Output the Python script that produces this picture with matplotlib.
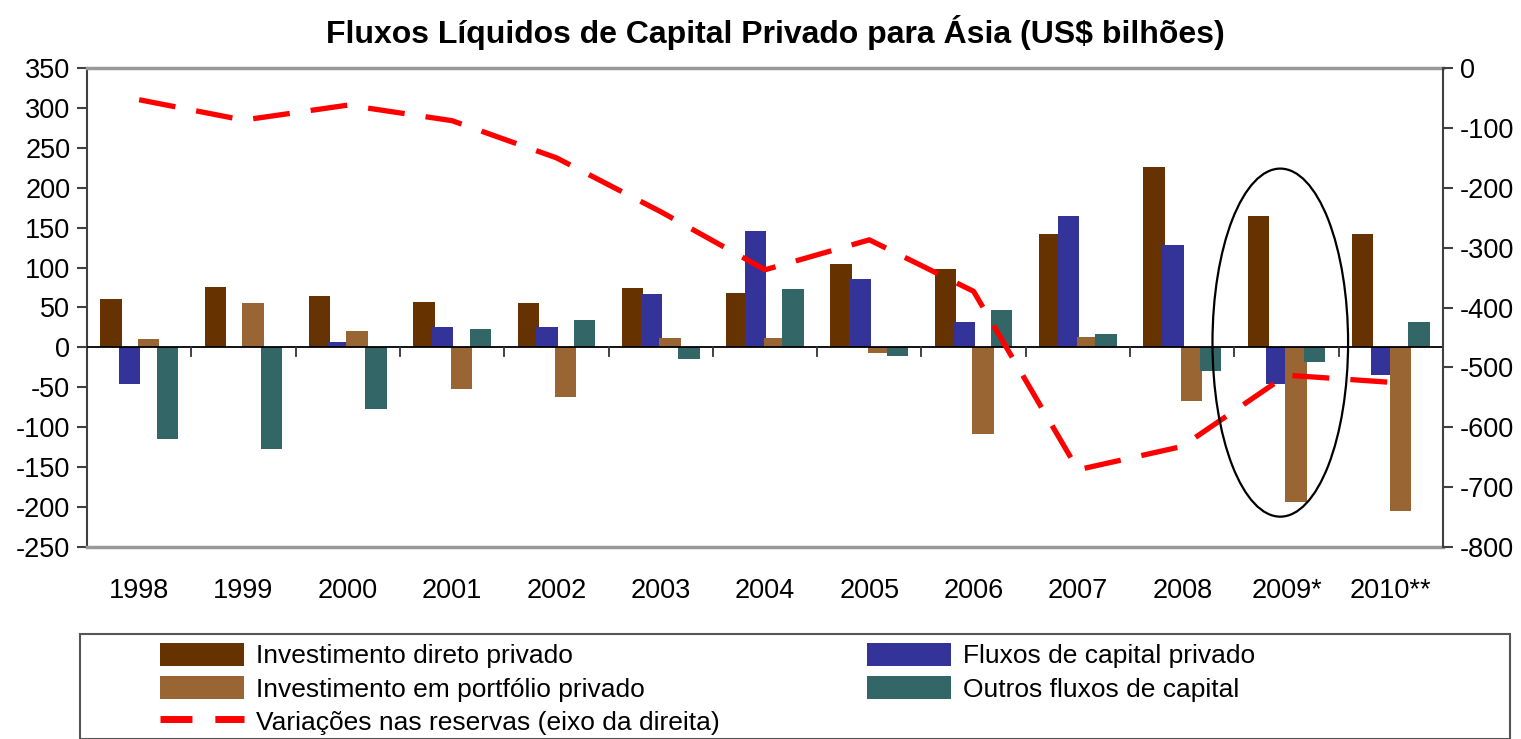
import matplotlib
matplotlib.use("Agg")
import matplotlib.pyplot as plt
from matplotlib.patches import Ellipse, Rectangle, Patch
from matplotlib.lines import Line2D
import numpy as np

plt.rcParams['font.family'] = ['Liberation Sans', 'DejaVu Sans']
plt.rcParams['axes.unicode_minus'] = False

years = ["1998", "1999", "2000", "2001", "2002", "2003", "2004", "2005",
         "2006", "2007", "2008", "2009*", "2010**"]
investimento_direto = [61, 76, 65, 57, 56, 74, 68, 104, 98, 142, 226, 165, 142]
fluxos_capital = [-46, 0, 7, 25, 25, 67, 146, 86, 32, 165, 128, -46, -35]
investimento_portfolio = [11, 56, 21, -52, -62, 12, 12, -7, -108, 13, -67, -194, -205]
outros_fluxos = [-115, -127, -77, 23, 34, -15, 73, -11, 47, 17, -30, -18, 32]
variacoes_reservas = [-53, -87, -62, -88, -150, -240, -337, -287, -373, -671, -632, -513, -525]

title = "Fluxos Líquidos de Capital Privado para Ásia (US$ bilhões)"
labels = ["Investimento direto privado", "Fluxos de capital privado",
          "Investimento em portfólio privado", "Outros fluxos de capital",
          "Variações nas reservas (eixo da direita)"]
colors = ["#663300", "#333399", "#996633", "#336666"]

fig = plt.figure(figsize=(15.21, 7.39), dpi=100)
ax = fig.add_axes([87/1521, 1-547/739, (1443-87)/1521, (547-68)/739])
ax2 = ax.twinx()

x = np.arange(len(years))
width = 0.205
offsets = [-0.27, -0.09, 0.09, 0.27]
series = [investimento_direto, fluxos_capital, investimento_portfolio, outros_fluxos]
for s, off, c in zip(series, offsets, colors):
    ax.bar(x + off, s, width=width, color=c, zorder=2)

ax.set_xlim(-0.5, len(years) - 0.5)
ax.set_ylim(-250, 350)
ax.set_yticks(np.arange(-250, 351, 50))
ax.set_xticks(x)
ax.set_xticklabels(years)
ax.tick_params(axis='x', length=0, pad=22, labelsize=19.5)
ax.tick_params(axis='y', direction='out', length=7, width=1.5, color='#404040',
               labelsize=19.5, pad=5)

# zero line and category boundary ticks
ax.axhline(0, color='black', lw=1.3, zorder=3)
for b in np.arange(0.5, len(years) - 0.5, 1.0):
    ax.plot([b, b], [0, -11], color='#333333', lw=1.3, zorder=3)

for sp in ['top', 'bottom']:
    ax.spines[sp].set_color('#999999')
    ax.spines[sp].set_linewidth(2.5)
ax.spines['left'].set_color('#404040')
ax.spines['left'].set_linewidth(1.5)
ax.spines['right'].set_visible(False)
ax2.spines['right'].set_color('#404040')
ax2.spines['right'].set_linewidth(1.5)
for sp in ['top', 'bottom', 'left']:
    ax2.spines[sp].set_visible(False)

ax2.plot(x, variacoes_reservas, color='#FF0000', lw=3.8, dashes=(7, 4),
         solid_capstyle='butt', dash_capstyle='butt', zorder=4)
ax2.set_ylim(-800, 0)
ax2.set_yticks(np.arange(-800, 1, 100))
ax2.tick_params(axis='y', direction='out', length=7, width=1.5, color='#404040',
                labelsize=19.5, pad=5)

# layer the line above the bars
ax2.set_zorder(ax.get_zorder() + 1)
ax2.patch.set_visible(False)

# ellipse highlighting 2009 (drawn on top, positioned in left-axis data coords)
ell = Ellipse((10.94, 6), width=1.30, height=436, fill=False, edgecolor='black',
              lw=1.6, zorder=6, transform=ax.transData)
ax2.add_patch(ell)

fig.suptitle(title, x=775/1521, y=1-33/739, va='center', fontsize=23, fontweight='bold')

# legend frame
fig.patches.append(Rectangle((80/1521, 0), (1510-80)/1521, 1-634/739,
                             transform=fig.transFigure, fill=False,
                             edgecolor='#555555', lw=1.5, clip_on=False))

handles = [Patch(facecolor=colors[0]), Patch(facecolor=colors[1]),
           Patch(facecolor=colors[2]), Patch(facecolor=colors[3]),
           Line2D([0], [0], color='#FF0000', lw=5, dashes=(4.6, 3.3),
                  dash_capstyle='butt')]
order = [0, 2, 4, 1, 3]
leg = fig.legend([handles[i] for i in order], [labels[i] for i in order],
                 ncol=2, loc='upper left', bbox_to_anchor=(160/1521, 1-643/739),
                 frameon=False, fontsize=19, handlelength=3.2, handleheight=0.95,
                 handletextpad=0.45, columnspacing=5.55, labelspacing=0.29,
                 borderpad=0, borderaxespad=0)

fig.savefig("out.png", dpi=100)
